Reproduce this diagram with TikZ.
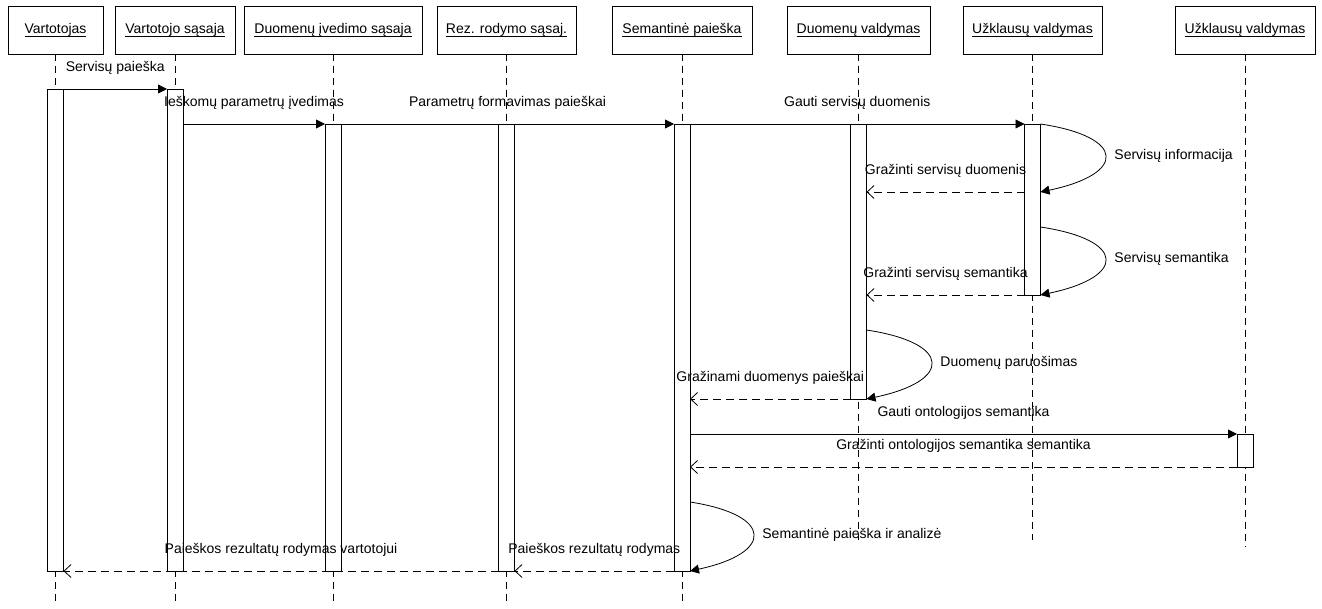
\documentclass[tikz,border=0pt]{standalone}
\usepackage{fontspec}
\setmainfont{Liberation Sans}
\usetikzlibrary{arrows.meta,calc}
% underlined object name of a lifeline head
\newcommand{\undl}[1]{{\setbox0\hbox{#1}\rlap{\rule[-2.5pt]{\wd0}{0.6pt}}\box0}}
\begin{document}
\begin{tikzpicture}[x=1pt,y=-1pt,
  font=\fontsize{14}{16}\selectfont,
  line width=0.8pt,
  head/.style={draw, minimum height=48pt, inner sep=0pt, outer sep=0pt, anchor=north west},
  bar/.style={draw, fill=white, minimum width=16pt, inner sep=0pt, outer sep=0pt, anchor=north},
  life/.style={dash pattern=on 7pt off 5pt},
  call/.style={-{Triangle[length=9pt,width=9pt]}},
  ret/.style={dash pattern=on 8pt off 5pt, -{Straight Barb[length=7pt,width=13pt]}},
  lbl/.style={midway, yshift=21pt, inner sep=0pt},
  loopl/.style={pos=0.5, anchor=west, xshift=9pt, inner sep=0pt}]
\useasboundingbox (0,0) rectangle (1322,609);

% lifeline heads
\node[head, minimum width=95pt]  (h1) at (8,6)    {\undl{Vartotojas}};
\node[head, minimum width=120pt] (h2) at (115,6)  {\undl{Vartotojo sąsaja}};
\node[head, minimum width=178pt] (h3) at (244,6)  {\undl{Duomenų įvedimo sąsaja}};
\node[head, minimum width=139pt] (h4) at (437,6)  {\undl{Rez. rodymo sąsaj.}};
\node[head, minimum width=140pt] (h5) at (612,6)  {\undl{Semantinė paieška}};
\node[head, minimum width=143pt] (h6) at (787,6)  {\undl{Duomenų valdymas}};
\node[head, minimum width=139pt] (h7) at (963,6)  {\undl{Užklausų valdymas}};
\node[head, minimum width=140pt] (h8) at (1175,6) {\undl{Užklausų valdymas}};

% dashed lifelines
\foreach \h/\e in {h1/605,h2/605,h3/605,h4/605,h5/605,h6/540,h7/540,h8/547}
  \draw[life] (\h.south) -- (\h.south |- 0,\e);

% activation bars
\node[bar, minimum height=482pt] (b1) at (h1.south |- 0,89)  {};
\node[bar, minimum height=482pt] (b2) at (h2.south |- 0,89)  {};
\node[bar, minimum height=447pt] (b3) at (h3.south |- 0,124) {};
\node[bar, minimum height=447pt] (b4) at (h4.south |- 0,124) {};
\node[bar, minimum height=447pt] (b5) at (h5.south |- 0,124) {};
\node[bar, minimum height=275pt] (b6) at (h6.south |- 0,124) {};
\node[bar, minimum height=171pt] (b7) at (h7.south |- 0,124) {};
\node[bar, minimum height=33pt]  (b8) at (h8.south |- 0,434) {};

% calls
\draw[call] (b1.east |- 0,89) -- node[lbl] {Servisų paieška} (b2.west |- 0,89);
\draw[call] (b2.east |- 0,124) -- node[lbl] {Ieškomų parametrų įvedimas} (b3.west |- 0,124);
\draw[call] (b3.east |- 0,124) -- node[lbl] {Parametrų formavimas paieškai} (b5.west |- 0,124);
\draw[call] (b5.east |- 0,124) -- node[lbl] {Gauti servisų duomenis} (b7.west |- 0,124);

% self calls of Užklausų valdymas
\draw[call] (b7.east |- 0,124) .. controls +(86,13) and +(86,-18) .. (b7.east |- 0,192)
  node[loopl] {Servisų informacija};
\draw[ret] (b7.west |- 0,192) -- node[lbl] {Gražinti servisų duomenis} (b6.east |- 0,192);
\draw[call] (b7.east |- 0,227) .. controls +(86,13) and +(86,-18) .. (b7.east |- 0,295)
  node[loopl] {Servisų semantika};
\draw[ret] (b7.west |- 0,295) -- node[lbl] {Gražinti servisų semantika} (b6.east |- 0,295);

% data preparation
\draw[call] (b6.east |- 0,330) .. controls +(86,13) and +(86,-18) .. (b6.east |- 0,399)
  node[loopl] {Duomenų paruošimas};
\draw[ret] (b6.west |- 0,399) -- node[lbl] {Gražinami duomenys paieškai} (b5.east |- 0,399);

% ontology semantics
\draw[call] (b5.east |- 0,434) -- node[lbl] {Gauti ontologijos semantika} (b8.west |- 0,434);
\draw[ret] (b8.west |- 0,467) -- node[lbl] {Gražinti ontologijos semantika semantika} (b5.east |- 0,467);

% semantic search and results
\draw[call] (b5.east |- 0,502) .. controls +(84,13) and +(84,-18) .. (b5.east |- 0,571)
  node[loopl] {Semantinė paieška ir analizė};
\draw[ret] (b5.west |- 0,571) -- node[lbl] {Paieškos rezultatų rodymas} (b4.east |- 0,571);
\draw[ret] (b4.west |- 0,571) -- node[lbl] {Paieškos rezultatų rodymas vartotojui} (b1.east |- 0,571);
\end{tikzpicture}
\end{document}
